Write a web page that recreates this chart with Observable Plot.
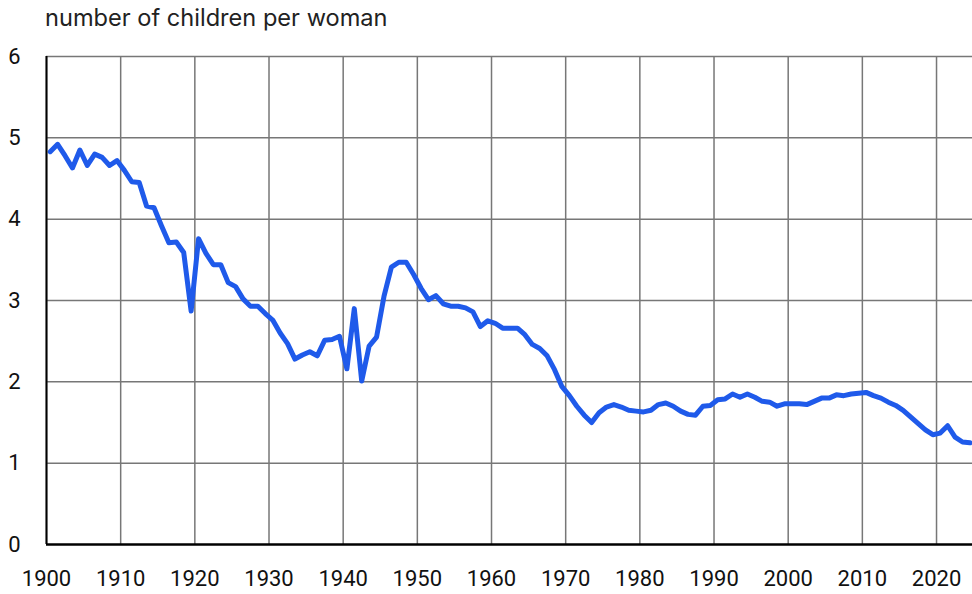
<!DOCTYPE html>
<html>
<head>
<meta charset="utf-8">
<script src="https://cdn.jsdelivr.net/npm/d3@7"></script>
<script src="https://cdn.jsdelivr.net/npm/@observablehq/plot@0.6"></script>
<style>
  html, body { margin: 0; padding: 0; background: #fff; }
  #wrap { position: relative; width: 972px; height: 594px; }
  #title { position: absolute; left: 45px; top: 4px; font-family: Inter, Roboto, sans-serif; font-size: 23.6px; line-height: 1.2; color: #222; white-space: nowrap; }
  #chart { position: absolute; left: 0; top: 0; }
</style>
</head>
<body>
<div id="wrap">
  <div id="chart"></div>
  <div id="title">number of children per woman</div>
</div>
<script>
const titleText = "number of children per woman";
const years = d3.range(1900, 2025);
const tfr = [
  4.83, 4.92, 4.78, 4.63, 4.85, 4.66, 4.80, 4.76, 4.66, 4.72,
  4.60, 4.46, 4.45, 4.16, 4.14, 3.92, 3.71, 3.72, 3.59, 2.87,
  3.76, 3.58, 3.44, 3.44, 3.22, 3.17, 3.02, 2.93, 2.93, 2.84,
  2.76, 2.60, 2.47, 2.28, 2.33, 2.37, 2.32, 2.51, 2.52, 2.56,
  2.16, 2.90, 2.01, 2.44, 2.55, 3.05, 3.41, 3.47, 3.47, 3.32,
  3.15, 3.01, 3.06, 2.96, 2.93, 2.93, 2.91, 2.86, 2.68, 2.75,
  2.72, 2.66, 2.66, 2.66, 2.58, 2.46, 2.41, 2.32, 2.15, 1.94,
  1.83, 1.70, 1.59, 1.50, 1.62, 1.69, 1.72, 1.69, 1.65, 1.64,
  1.63, 1.65, 1.72, 1.74, 1.70, 1.64, 1.60, 1.59, 1.70, 1.71,
  1.78, 1.79, 1.85, 1.81, 1.85, 1.81, 1.76, 1.75, 1.70, 1.73,
  1.73, 1.73, 1.72, 1.76, 1.80, 1.80, 1.84, 1.83, 1.85, 1.86,
  1.87, 1.83, 1.80, 1.75, 1.71, 1.65, 1.57, 1.49, 1.41, 1.35,
  1.37, 1.46, 1.32, 1.26, 1.25
];
const xTicks = [1900, 1910, 1920, 1930, 1940, 1950, 1960, 1970, 1980, 1990, 2000, 2010, 2020];
const yTicks = [0, 1, 2, 3, 4, 5, 6];

const data = years.map((y, i) => ({year: y, value: tfr[i]}));

const chart = Plot.plot({
  width: 972,
  height: 594,
  marginTop: 56,
  marginBottom: 50,
  marginLeft: 46,
  marginRight: 0,
  style: {fontFamily: "Roboto, sans-serif", fontSize: "22px", color: "#111", background: "#fff"},
  x: {domain: [1900, 2024.85]},
  y: {domain: [0, 6]},
  marks: [
    Plot.gridX(xTicks, {stroke: "#777", strokeOpacity: 1, strokeWidth: 1.5}),
    Plot.gridY(yTicks.filter(d => d > 0), {stroke: "#777", strokeOpacity: 1, strokeWidth: 1.5}),
    Plot.axisX(xTicks, {tickSize: 0, tickPadding: 26, tickFormat: d => String(d), label: null, fontSize: 22}),
    Plot.axisY(yTicks, {tickSize: 0, tickPadding: 26, tickFormat: d => String(d), label: null, fontSize: 22}),
    Plot.line(data, {x: d => d.year + 0.5, y: "value", stroke: "#1f5aea", strokeWidth: 5, strokeLinejoin: "round", strokeLinecap: "round"}),
    Plot.ruleX([1900], {stroke: "#000", strokeWidth: 2}),
    Plot.ruleY([0], {stroke: "#000", strokeWidth: 2.5})
  ]
});
document.getElementById("chart").appendChild(chart);
document.getElementById("title").textContent = titleText;
</script>
</body>
</html>
